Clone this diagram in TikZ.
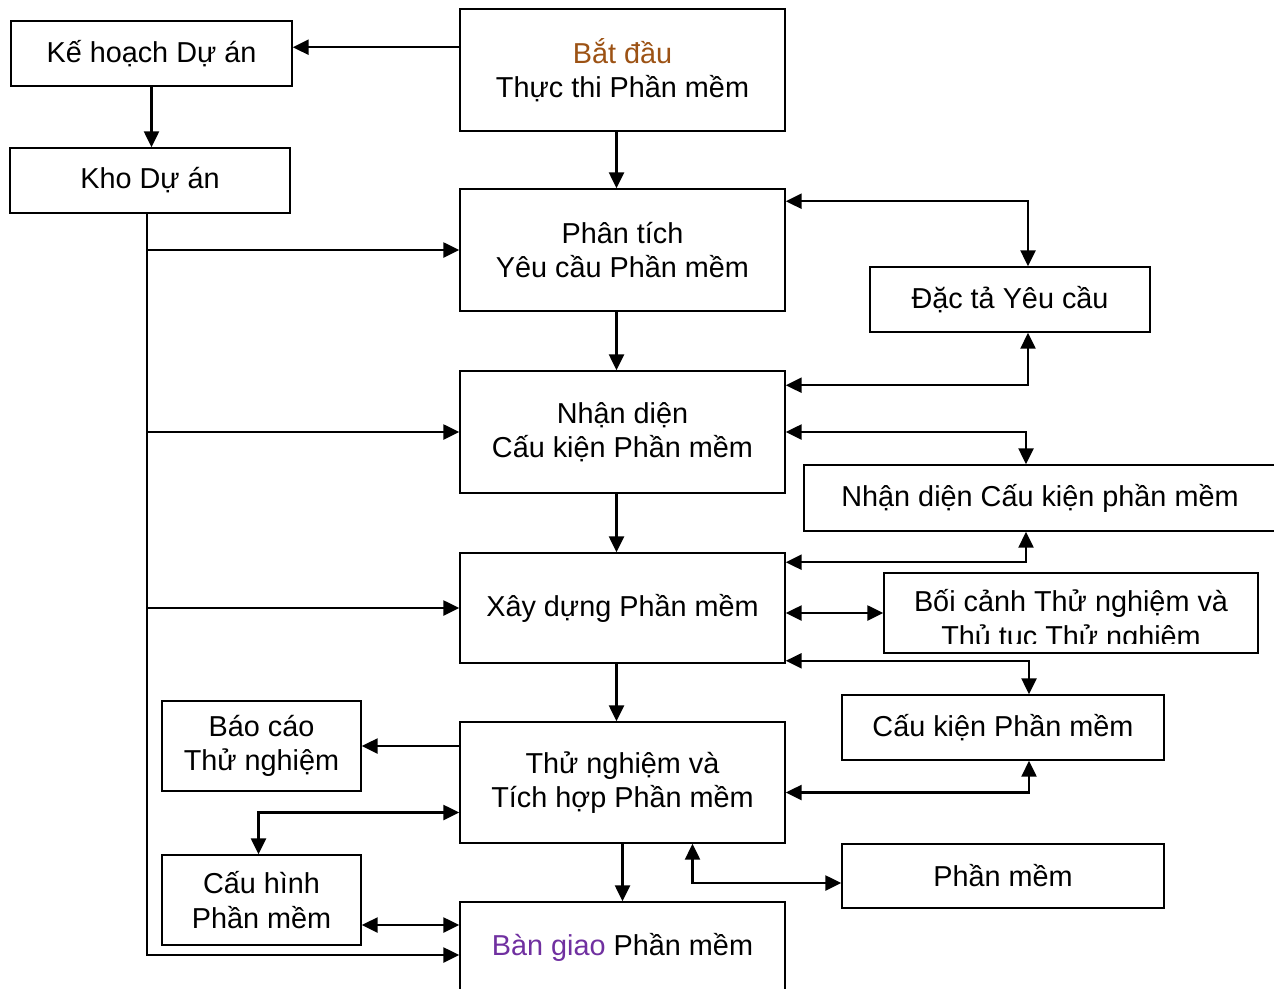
\documentclass[tikz,border=0pt]{standalone}
\usepackage{fontspec}
\setmainfont{Liberation Sans}
\usetikzlibrary{arrows.meta,calc,positioning}
\definecolor{startbrown}{RGB}{156,82,20}
\definecolor{handpurple}{RGB}{112,48,160}
\tikzset{
  box/.style={draw,line width=0.9pt,align=center,inner sep=2pt,
    font=\fontsize{16.4}{19.5}\selectfont},
  boxtxt/.style={align=center,inner sep=0pt,font=\fontsize{16.4}{19.5}\selectfont},
  lnk/.style={-{Triangle[length=9pt,width=8.5pt]},line width=1.3pt},
  dlnk/.style={{Triangle[length=9pt,width=8.5pt]}-{Triangle[length=9pt,width=8.5pt]},line width=1.3pt},
}
\begin{document}
\begin{tikzpicture}[x=0.02cm,y=-0.02cm]
  \clip (0,0) rectangle (1274,988);
  % main column
  \node[box,minimum width=6.5cm,minimum height=2.44cm] (batdau) at (622.5,70)
    {\textcolor{startbrown}{Bắt đầu}\\Thực thi Phần mềm};
  \node[box,minimum width=6.5cm,minimum height=2.44cm] (phantich) at (622.5,250)
    {Phân tích\\Yêu cầu Phần mềm};
  \node[box,minimum width=6.5cm,minimum height=2.44cm] (nhandien) at (622.5,432)
    {Nhận diện\\Cấu kiện Phần mềm};
  \node[box,minimum width=6.5cm,minimum height=2.2cm] (xaydung) at (622.5,608)
    {Xây dựng Phần mềm};
  \node[box,minimum width=6.5cm,minimum height=2.42cm] (thunghiem) at (622.5,782.5)
    {Thử nghiệm và\\Tích hợp Phần mềm};
  \node[box,minimum width=6.5cm,minimum height=1.8cm] (bangiao) at (622.5,947)
    {\textcolor{handpurple}{Bàn giao} Phần mềm};
  % left side
  \node[box,minimum width=5.62cm,minimum height=1.3cm] (kehoach) at (151.5,53.5) {Kế hoạch Dự án};
  \node[box,minimum width=5.6cm,minimum height=1.3cm] (kho) at (150,180.5) {Kho Dự án};
  \node[box,minimum width=3.98cm,minimum height=1.8cm] (baocao) at (261.5,746) {Báo cáo\\Thử nghiệm};
  \node[box,minimum width=3.98cm,minimum height=1.8cm] (cauhinh) at (261.5,900) {Cấu hình\\Phần mềm};
  % right side (work products)
  \node[box,minimum width=5.6cm,minimum height=1.3cm] (dacta) at (1010,299.5) {Đặc tả Yêu cầu};
  \node[box,minimum width=9.44cm,minimum height=1.32cm] (nhandienR) at (1040,498)
    {Nhận diện Cấu kiện phần mềm};
  \node[box,minimum width=7.48cm,minimum height=1.6cm] (boicanh) at (1071,613) {};
  \begin{scope}
    \clip (885,574) rectangle (1257,643);
    \node[boxtxt] (boicanhtxt) at (1071,621) {Bối cảnh Thử nghiệm và\\Thủ tục Thử nghiệm};
  \end{scope}
  \node[box,minimum width=6.44cm,minimum height=1.3cm] (caukien) at (1003,727.5) {Cấu kiện Phần mềm};
  \node[box,minimum width=6.44cm,minimum height=1.28cm] (phanmem) at (1003,876) {Phần mềm};

  % top row and project repository spine
  \draw[lnk] ($(batdau.north west)+(0,39)$) coordinate (b1) -- (b1 -| kehoach.east);
  \draw[lnk] (kehoach.south) -- (kehoach.south |- kho.north);
  \coordinate (spine) at ($(kho.south)+(-3,0)$);
  \draw[lnk] (spine) |- ($(bangiao.west)+(0,8)$);
  \foreach \t in {phantich,nhandien,xaydung}
    \draw[lnk] (spine |- \t.west) -- (\t.west);

  % down the main column
  \foreach \a/\b in {batdau/phantich,phantich/nhandien,nhandien/xaydung,xaydung/thunghiem}
    \draw[lnk] ($(\a.south)+(-6,0)$) -- ($(\b.north)+(-6,0)$);
  \draw[lnk] (thunghiem.south) -- (bangiao.north);

  % exchanges with the work products
  \draw[dlnk] ($(phantich.north east)+(0,13)$) -| ($(dacta.north)+(18,0)$);
  \draw[dlnk] ($(dacta.south)+(18,0)$) |- ($(nhandien.north east)+(0,15)$);
  \draw[dlnk] (nhandien.east) -| ($(nhandienR.north)+(-14,0)$);
  \draw[dlnk] ($(nhandienR.south)+(-14,0)$) |- ($(xaydung.north east)+(0,10)$);
  \draw[dlnk] (xaydung.east |- boicanh.west) -- (boicanh.west);
  \draw[dlnk] ($(xaydung.south east)+(0,-3)$) -| ($(caukien.north)+(26,0)$);
  \draw[dlnk] ($(caukien.south)+(26,0)$) |- ($(thunghiem.east)+(0,10)$);
  \draw[dlnk] ($(phanmem.west)+(0,7)$) -| ($(thunghiem.south)+(70,0)$);

  % test report, configuration, hand-over
  \draw[lnk] (thunghiem.west |- baocao.east) -- (baocao.east);
  \draw[dlnk] ($(thunghiem.west)+(0,30)$) -| ($(cauhinh.north)+(-3,0)$);
  \draw[dlnk] ($(cauhinh.east)+(0,25)$) coordinate (c1) -- (c1 -| bangiao.west);
\end{tikzpicture}
\end{document}
